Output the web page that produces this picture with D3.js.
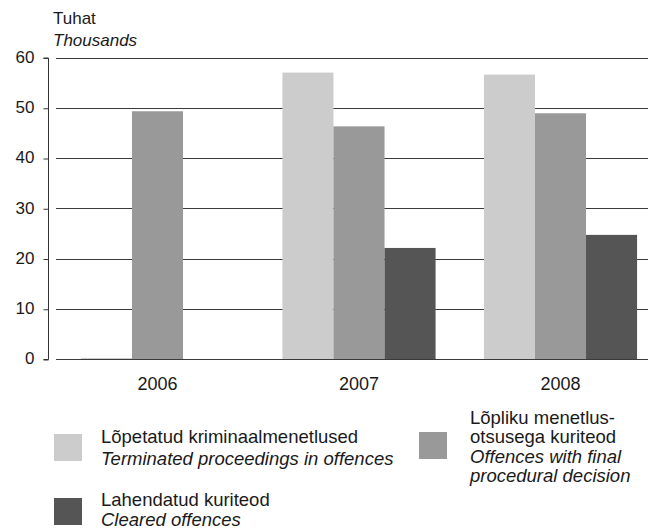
<!DOCTYPE html>
<html>
<head>
<meta charset="utf-8">
<script src="https://cdn.jsdelivr.net/npm/d3@7/dist/d3.min.js"></script>
<style>
  html, body { margin: 0; padding: 0; background: #fff; }
  svg { display: block; font-family: "Liberation Sans", Arial, sans-serif; }
</style>
</head>
<body>
<svg id="chart" width="648" height="530"></svg>
<script>
// Years on the x axis
const years = ["2006", "2007", "2008"];
// Series (thousands)
const terminated = [0.2, 57.0, 56.6];
const finalDecision = [49.3, 46.3, 48.9];
const cleared = [0, 22.1, 24.7];
const yTicks = [0, 10, 20, 30, 40, 50, 60];

const seriesKeys = ["terminated", "finalDecision", "cleared"];
const seriesColors = ["#cccccc", "#999999", "#555555"];
const seriesValues = [terminated, finalDecision, cleared];

const textColor = "#1a1a1a";
const svg = d3.select("#chart");

const x0 = d3.scaleBand().domain(years).range([56.75, 661.25])
  .paddingInner(0.24).paddingOuter(0.12);
const x1 = d3.scaleBand().domain(seriesKeys).range([0, x0.bandwidth()]);
const y = d3.scaleLinear().domain([0, 60]).range([359, 57.5]);

// gridlines
svg.append("g").selectAll("line").data(yTicks).join("line")
  .attr("x1", 56).attr("x2", 648)
  .attr("y1", d => Math.round(y(d)) + 0.5).attr("y2", d => Math.round(y(d)) + 0.5)
  .attr("stroke", "#3a3a3a").attr("stroke-width", 1);

// y axis
const yAxis = d3.axisLeft(y).tickValues(yTicks).tickSize(5).tickPadding(9)
  .tickFormat(d3.format("d"));
const ga = svg.append("g").attr("transform", "translate(48.5,0.5)").call(yAxis);
ga.select(".domain").attr("stroke", "#333").attr("d", `M-5,${y(60)}H0V${y(0)}H-5`);
ga.selectAll(".tick line").attr("stroke", "#333");
ga.selectAll(".tick text").attr("font-size", 17).attr("fill", textColor)
  .attr("dy", "0.25em")
  .attr("font-family", "Liberation Sans, Arial, sans-serif");

// bars
const groups = svg.append("g").selectAll("g").data(years).join("g")
  .attr("transform", d => `translate(${x0(d)},0)`);
groups.selectAll("rect")
  .data((d, i) => seriesKeys.map((k, j) => ({ key: k, value: seriesValues[j][i], color: seriesColors[j] })))
  .join("rect")
  .attr("x", d => x1(d.key))
  .attr("width", x1.bandwidth())
  .attr("y", d => y(d.value))
  .attr("height", d => y(0) - y(d.value))
  .attr("fill", d => d.color);

// year labels
const xAxis = d3.axisBottom(x0).tickSize(0).tickPadding(0);
const gx = svg.append("g").attr("transform", "translate(0,377.5)").call(xAxis);
gx.select(".domain").remove();
gx.selectAll(".tick text").attr("font-size", 18).attr("fill", textColor)
  .attr("font-family", "Liberation Sans, Arial, sans-serif");

// unit label
svg.append("text").attr("x", 53).attr("y", 24).attr("font-size", 17).attr("fill", textColor).text("Tuhat");
svg.append("text").attr("x", 53).attr("y", 46).attr("font-size", 17).attr("font-style", "italic").attr("fill", textColor).text("Thousands");

// legend
const legend = [
  { color: seriesColors[0], sx: 54, sy: 434, tx: 101, lines: [["Lõpetatud kriminaalmenetlused", false, 443], ["Terminated proceedings in offences", true, 465]] },
  { color: seriesColors[1], sx: 419, sy: 432, tx: 470, lines: [["Lõpliku menetlus-", false, 424], ["otsusega kuriteod", false, 443], ["Offences with final", true, 463], ["procedural decision", true, 482]] },
  { color: seriesColors[2], sx: 54, sy: 498, tx: 101, lines: [["Lahendatud kuriteod", false, 506], ["Cleared offences", true, 526]] }
];
const lg = svg.append("g").selectAll("g").data(legend).join("g");
lg.append("rect").attr("x", d => d.sx).attr("y", d => d.sy).attr("width", 28).attr("height", 27).attr("fill", d => d.color);
lg.each(function (d) {
  d3.select(this).selectAll("text").data(d.lines).join("text")
    .attr("x", d.tx).attr("y", l => l[2])
    .attr("font-size", 18.5).attr("fill", textColor)
    .attr("font-style", l => l[1] ? "italic" : "normal")
    .text(l => l[0]);
});
</script>
</body>
</html>
